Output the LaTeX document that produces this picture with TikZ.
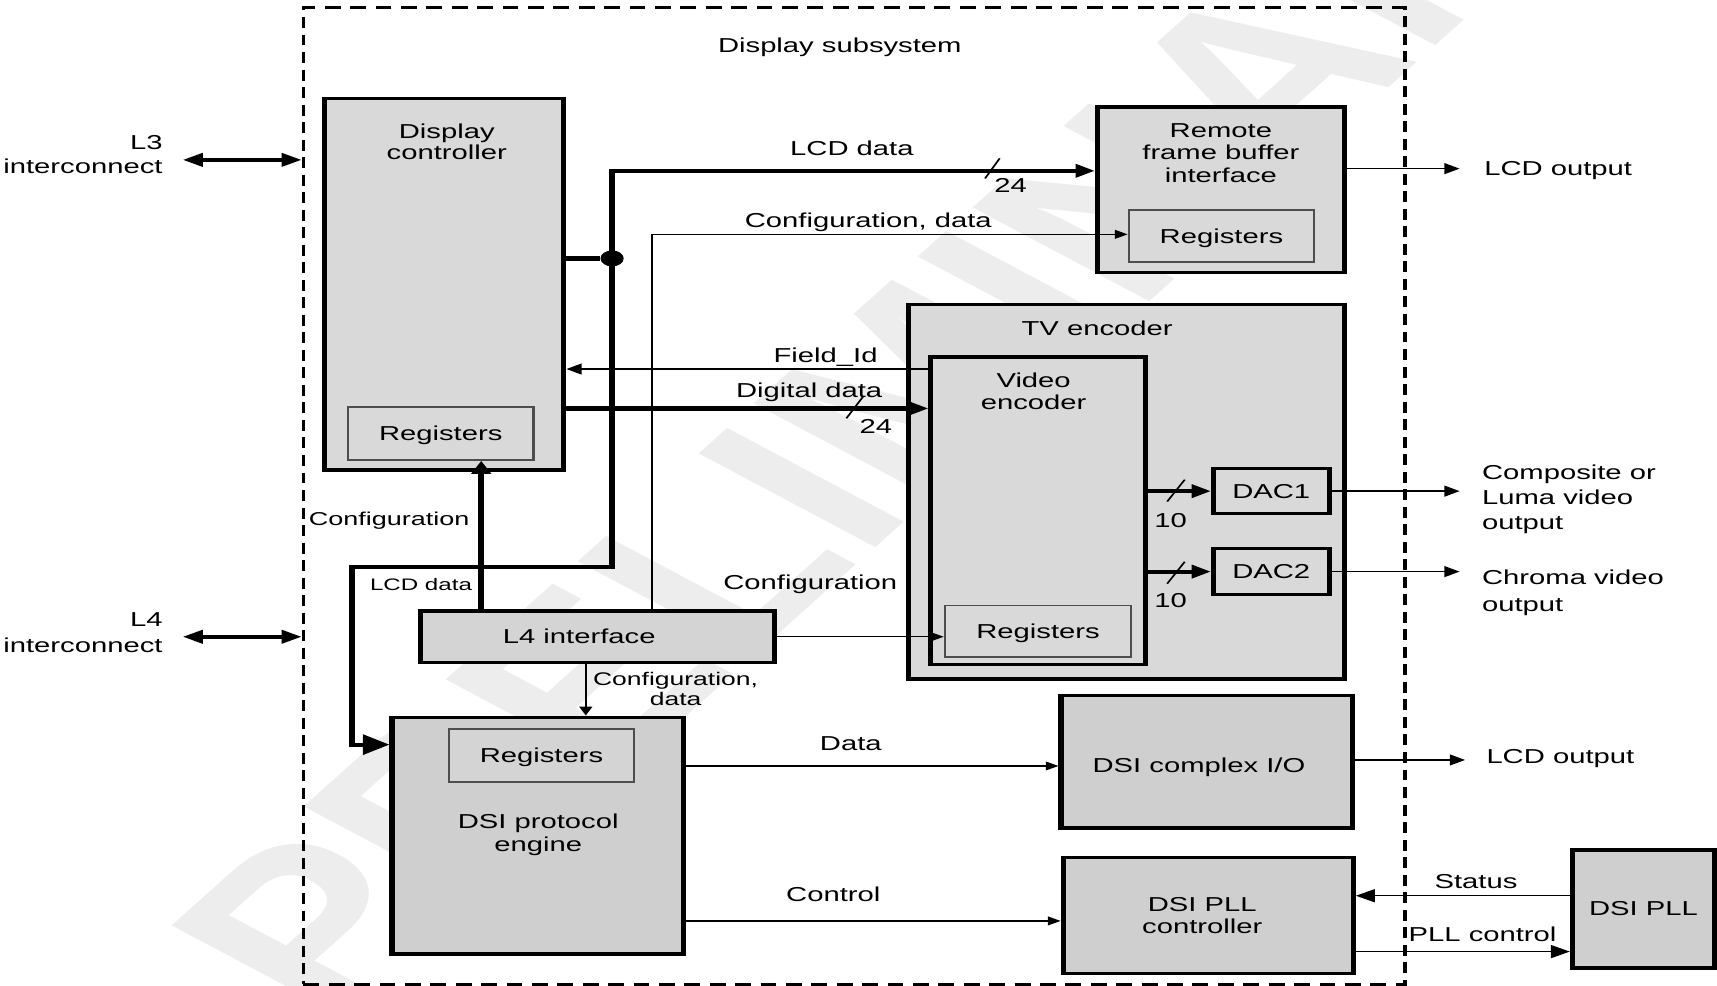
\documentclass[tikz,border=0pt]{standalone}
\usepackage{fontspec}
\setmainfont{Liberation Sans}
\usetikzlibrary{arrows.meta,fit}
\definecolor{boxgray}{HTML}{D9D9D9}
\definecolor{dsigray}{HTML}{CFCFCF}
\definecolor{lfgray}{HTML}{D4D4D4}
\definecolor{reggray}{HTML}{4D4D4D}
\definecolor{wmgray}{HTML}{EDEDED}
\tikzset{
  blk/.style={draw, line width=1.6pt, fill=boxgray, inner sep=0pt},
  dsiblk/.style={blk, fill=dsigray},
  regbox/.style={draw=reggray, line width=0.8pt, fill=boxgray, inner sep=0pt},
  txt/.style={font=\fontsize{9.2}{10}\selectfont, inner sep=0pt, text height=6.6pt, text depth=0pt},
  smtxt/.style={font=\fontsize{#1}{10}\selectfont, inner sep=0pt, text height=5.8pt, text depth=0pt},
  mtxt/.style={font=\fontsize{9.2}{#1}\selectfont, inner sep=0pt, align=center, anchor=north},
  bus/.style={line width=1.9pt, line join=miter},
  wire/.style={line width=0.6pt},
  slash/.style={line width=0.6pt},
  tipbig/.style={-{Triangle[length=6pt,width=6pt]}},
  tipmid/.style={-{Triangle[length=4.8pt,width=5pt]}},
  tipsmall/.style={-{Triangle[length=4pt,width=4pt]}},
  frame/.style={draw, line width=1.1pt, dash pattern=on 5pt off 3pt, inner sep=0pt},
}
\begin{document}
\begin{tikzpicture}[x=0.3448pt,y=-0.5pt]
\useasboundingbox (0pt,0pt) rectangle (784pt,-450pt);
\fill[white] (0pt,0pt) rectangle (784pt,-450pt);
\begin{scope}[transform canvas={xscale=1.45}]
% watermark
\node[rotate=52.4, font=\fontsize{102}{102}\selectfont\bfseries, text=wmgray, inner sep=0pt] (wm) at (844,345) {PRELIMINARY};

% outer dashed frame
\node[frame, fit={(277,7) (1283,899)}] (outer) {};
\node[txt] (subt) at (767,41) {Display subsystem};

% left interconnect labels
\node[mtxt=11pt, align=right, anchor=north east] (l3t) at (149,122.9) {L3\\interconnect};
\node[mtxt=11.5pt, align=right, anchor=north east] (l4t) at (149,559.4) {L4\\interconnect};
\coordinate (l3) at (167,146);
\coordinate (l4p) at (167,581.5);
\draw[line width=2pt, {Triangle[length=6.3pt,width=6pt]}-{Triangle[length=6.3pt,width=6pt]}] (l3) -- (outer.west |- l3);
\draw[line width=2pt, {Triangle[length=6.3pt,width=6pt]}-{Triangle[length=6.3pt,width=6pt]}] (l4p) -- (outer.west |- l4p);

% Display controller
\node[blk, fit={(296,90) (515,429)}] (dc) {};
\node[mtxt=9.75pt] (dct) at (408,112.4) {Display\\controller};
\node[regbox, fit={(318,372) (487,420)}] (dcreg) {};
\node[txt] (dcregt) at (dcreg) {Registers};

% Remote frame buffer interface
\node[blk, fit={(1002,97.5) (1228,249)}] (rfb) {};
\node[mtxt=10.25pt] (rfbt) at (1115,112.4) {Remote\\frame buffer\\interface};
\node[regbox, fit={(1031,192) (1200,239)}] (rfbreg) {};
\node[txt] (rfbregt) at (rfbreg) {Registers};

% TV encoder
\node[blk, fit={(830,278) (1228,620)}] (tv) {};
\node[txt] (tvt) at (1002,300) {TV encoder};
\node[blk, fit={(850,326) (1046,607)}] (ve) {};
\node[mtxt=10pt] (vet) at (944,340.4) {Video\\encoder};
\node[regbox, fit={(863,553) (1033,600)}] (vereg) {};
\node[txt] (veregt) at (vereg) {Registers};
\node[blk, fit={(1108,428) (1214,469)}] (dac1) {};
\node[txt] (dac1t) at (dac1) {DAC1};
\node[blk, fit={(1108,501) (1214,543)}] (dac2) {};
\node[txt] (dac2t) at (dac2) {DAC2};

% L4 interface
\node[blk, fill=lfgray, fit={(384,558) (707,605)}] (l4) {};
\node[txt] (l4it) at (529,581) {L4 interface};

% DSI protocol engine
\node[dsiblk, fit={(358,655) (624,871)}] (pe) {};
\node[regbox, fill=lfgray, fit={(410,666) (579,714)}] (pereg) {};
\node[txt] (peregt) at (pereg) {Registers};
\node[mtxt=10.25pt] (pet) at (491.5,743) {DSI protocol\\engine};

% DSI complex I/O, PLL controller, PLL
\node[dsiblk, fit={(969,635) (1235,756)}] (dio) {};
\node[txt] (diot) at (1095,699) {DSI complex I/O};
\node[dsiblk, fit={(971,783) (1236,889)}] (pllc) {};
\node[mtxt=9.75pt] (pllct) at (1098,819.4) {DSI PLL\\controller};
\node[dsiblk, fit={(1436,776) (1566,884)}] (pll) {};
\node[txt] (pllt) at (1501,829) {DSI PLL};

% bus from display controller
\node[circle, fill, inner sep=0pt, minimum size=7.3pt] (dot) at (559,236) {};
\coordinate (bustop) at (559,156);
\coordinate (busbot) at (559,518);
\coordinate (bendA) at (321.5,518);
\coordinate (bendB) at (321.5,680);
\draw[bus] (dc.east |- dot) -- (dot);
\draw[bus, {Triangle[length=8.4pt,width=9pt]}-{Triangle[length=6pt,width=6pt]}]
  (pe.west |- bendB) -- (bendB) -- (bendA) -- (busbot) -- (bustop) -- (rfb.west |- bustop);
\node[txt] (lcdt) at (778,135) {LCD data};
\draw[slash] (899.6,163) -- (913,144.6);
\node[txt] (n24a) at (923,169) {24};

% configuration, data to RFB registers
\coordinate (cfgbend) at (595.5,214);
\draw[wire, tipsmall] (l4.north -| cfgbend) -- (cfgbend) -- (rfbreg.west |- cfgbend);
\node[txt] (cfgdt) at (793,201) {Configuration, data};

% Field_Id and digital data
\draw[wire, tipmid] (ve.west |- 0,337) -- (dc.east |- 0,337);
\node[txt] (fidt) at (754,324) {Field\_Id};
\draw[bus, tipbig] (dc.east |- 0,373) -- (ve.west |- 0,373);
\node[txt] (ddt) at (739,356) {Digital data};
\draw[slash] (773,382) -- (788,362.5);
\node[txt] (n24b) at (800,389) {24};

% DAC connections
\draw[bus, tipbig] (ve.east |- dac1.west) -- (dac1.west);
\draw[slash] (1066,458) -- (1082,438);
\node[txt] (n10a) at (1069,475) {10};
\draw[bus, tipbig] (ve.east |- dac2.west) -- (dac2.west);
\draw[slash] (1066,533) -- (1082,513);
\node[txt] (n10b) at (1069,548) {10};

% outputs
\coordinate (o0) at (1333,154);
\coordinate (o1) at (1333,448.5);
\coordinate (o2) at (1333,522);
\coordinate (o3) at (1338,694);
\draw[wire, tipmid] (rfb.east |- o0) -- (o0);
\draw[wire, tipmid] (dac1.east) -- (o1);
\draw[wire, tipmid] (dac2.east |- o2) -- (o2);
\draw[wire, tipmid] (dio.east |- o3) -- (o3);
\node[txt, anchor=west] (lcdo1) at (1355,154) {LCD output};
\node[mtxt=11.25pt, align=left, anchor=north west] (compt) at (1353,424.4) {Composite or\\Luma video\\output};
\node[mtxt=12pt, align=left, anchor=north west] (chrt) at (1353,520.4) {Chroma video\\output};
\node[txt, anchor=west] (lcdo2) at (1357,691) {LCD output};

% configuration from L4 interface
\coordinate (cfgup) at (439.5,500);
\draw[bus, tipbig] (l4.north -| cfgup) -- (dcreg.south -| cfgup);
\node[smtxt=8.5] (cfglt) at (355.5,474) {Configuration};
\node[smtxt=7.6] (lcdst) at (384.5,533) {LCD data};
\draw[wire, tipsmall] (l4.east) -- (l4.east -| vereg.west);
\node[txt] (cfgrt) at (740,532) {Configuration};
\coordinate (cdx) at (535,630);
\draw[wire, tipsmall] (l4.south -| cdx) -- (pe.north -| cdx);
\node[font=\fontsize{8.35}{9.25}\selectfont, inner sep=0pt, align=center, anchor=north] (cfgdt2) at (617,613.5) {Configuration,\\data};

% DSI data and control
\draw[wire, tipsmall] (pe.east |- 0,699.5) -- (dio.west |- 0,699.5);
\node[txt] (datat) at (777,679) {Data};
\draw[wire, tipsmall] (pe.east |- 0,841) -- (pllc.west |- 0,841);
\node[txt] (ctrlt) at (761,817) {Control};
\draw[wire, tipbig] (pll.west |- 0,818) -- (pllc.east |- 0,818);
\node[txt] (statt) at (1348,805) {Status};
\draw[wire, tipbig] (pllc.east |- 0,869) -- (pll.west |- 0,869);
\node[txt] (pllctt) at (1354,853) {PLL control};
\end{scope}
\end{tikzpicture}
\end{document}
